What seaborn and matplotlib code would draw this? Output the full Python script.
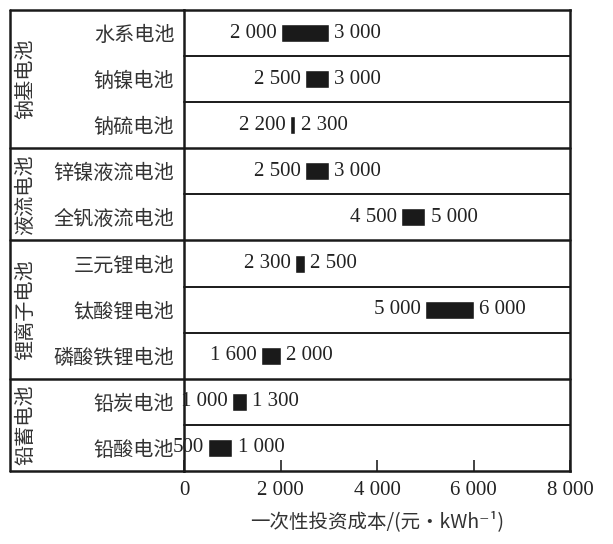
import matplotlib
matplotlib.use('Agg')
import matplotlib.pyplot as plt
import seaborn as sns
import pandas as pd
from matplotlib.ticker import FuncFormatter

# DATA
batteries = ['水系电池', '钠镍电池', '钠硫电池', '锌镍液流电池', '全钒液流电池',
             '三元锂电池', '钛酸锂电池', '磷酸铁锂电池', '铅炭电池', '铅酸电池']
cost_low = [2000, 2500, 2200, 2500, 4500, 2300, 5000, 1600, 1000, 500]
cost_high = [3000, 3000, 2300, 3000, 5000, 2500, 6000, 2000, 1300, 1000]
groups = ['钠基电池', '液流电池', '锂离子电池', '铅蓄电池']
group_sizes = [3, 2, 3, 2]
x_ticks = [0, 2000, 4000, 6000, 8000]

df = pd.DataFrame({'battery': batteries, 'low': cost_low, 'high': cost_high})
df['span'] = df['high'] - df['low']


def fmt(v):
    # thousands separated by a space, as in the source
    return f'{int(v):,}'.replace(',', ' ')


sns.set_theme(style='white')
cjk = ['Noto Sans CJK SC', 'DejaVu Sans']
num_font = ['Liberation Serif', 'DejaVu Serif']
plt.rcParams['font.family'] = cjk

fig = plt.figure(figsize=(6.13, 5.44), dpi=100)
ax = fig.add_axes([184 / 613, 1 - 471 / 544, 386 / 613, 461 / 544])

sns.barplot(data=df, x='span', y='battery', left=df['low'], color='#1a1a1a',
            width=0.39, saturation=1, ax=ax, zorder=3)

ax.set_xlim(0, 8000)
ax.set_ylim(len(batteries) - 0.5, -0.5)
ax.set_xticks(x_ticks)
ax.xaxis.set_major_formatter(FuncFormatter(lambda v, p: fmt(v)))
for lab in ax.get_xticklabels():
    lab.set_fontfamily(num_font)
    lab.set_fontsize(15)
ax.tick_params(axis='x', direction='in', length=8, width=1.2, color='#222222',
               bottom=True, pad=7, labelcolor='#222222')
ax.tick_params(axis='y', length=0, pad=7, labelsize=14.5, labelcolor='#333333')
ax.set_xlabel('一次性投资成本/(元·kWh⁻¹)', fontsize=14, color='#333333',
              labelpad=8, family=cjk)
ax.set_ylabel('')

for s in ax.spines.values():
    s.set_color('#1a1a1a')
    s.set_linewidth(1.8)

# value labels
for i, (lo, hi) in enumerate(zip(cost_low, cost_high)):
    ax.annotate(fmt(lo), (lo, i), xytext=(-3, 0),
                textcoords='offset points', ha='right', va='center',
                fontsize=15, family=num_font, color='#222222')
    ax.annotate(fmt(hi), (hi, i), xytext=(4, 0),
                textcoords='offset points', ha='left', va='center',
                fontsize=15, family=num_font, color='#222222')

# row and group separators
left_edge = (10 - 184) / 386
ytr = ax.get_yaxis_transform()
start = 0
bounds = []
for g, n in zip(groups, group_sizes):
    bounds.append(start + n)
    mid = start + (n - 1) / 2
    ax.text(-0.41, mid, g, transform=ytr, rotation=90, ha='center', va='center',
            fontsize=14.5, color='#333333', family=cjk)
    start += n
for k in range(1, len(batteries)):
    y = k - 0.5
    if k in bounds:
        ax.plot([left_edge, 1], [y, y], transform=ytr, color='#1a1a1a', lw=1.8,
                clip_on=False, zorder=4)
    else:
        ax.plot([0, 1], [y, y], transform=ytr, color='#1a1a1a', lw=1.4,
                clip_on=False, zorder=4)
top, bot = -0.5, len(batteries) - 0.5
ax.plot([left_edge, 0], [top, top], transform=ytr, color='#1a1a1a', lw=1.8, clip_on=False)
ax.plot([left_edge, 0], [bot, bot], transform=ytr, color='#1a1a1a', lw=1.8, clip_on=False)
ax.plot([left_edge, left_edge], [top, bot], transform=ytr, color='#1a1a1a', lw=1.8,
        clip_on=False)

fig.savefig('out.png', dpi=100)
